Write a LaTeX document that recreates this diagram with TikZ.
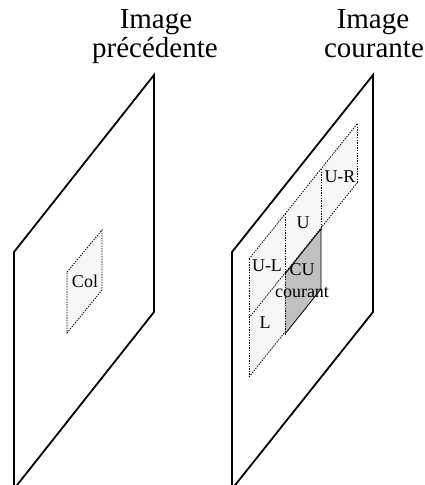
\documentclass[tikz,border=0pt]{standalone}
\usepackage{fontspec}
\setmainfont{Liberation Serif}
\begin{document}
\begin{tikzpicture}[x=1pt,y=-1pt,
  plane/.style={draw=black,line width=1.8pt,line join=miter},
  cell/.style={fill=cellgray},
  dotline/.style={draw=black,line width=0.8pt,dash pattern=on 1.4pt off 1.2pt},
  solidline/.style={draw=black,line width=0.8pt},
  title/.style={font=\fontsize{29}{29}\selectfont,anchor=base,inner sep=0pt},
  lab/.style={font=\fontsize{18}{18}\selectfont,anchor=base,inner sep=0pt}]
\definecolor{cellgray}{HTML}{F6F6F6}
\definecolor{cugray}{HTML}{C0C0C0}
\useasboundingbox (0,0) rectangle (424,485);
\clip (0,0) rectangle (424,485);
% titles
\node[title] (t1a) at (156,28) {Image};
\node[title] (t1b) at (155,57) {précédente};
\node[title] (t2a) at (373,28) {Image};
\node[title] (t2b) at (374,57) {courante};
% planes
\draw[plane] (14,489) -- (14,252) -- (154,75) -- (154,312) -- cycle;
\draw[plane] (232,489) -- (232,252) -- (373,75) -- (373,312) -- cycle;
% Col patch
\fill[cell] (67,272) -- (102,230) -- (102,290) -- (67,333) -- cycle;
\draw[dotline] (67,272) -- (102,230) -- (102,290) -- (67,333) -- cycle;
\node[lab] (col) at (85,287) {Col};
% grid cells: top-left of cell (c,r) = (249+36c, 259-45c+59r)
\fill[cell] (249,259) -- (357,124) -- (357,183) -- (321,228) -- (321,287) -- (285,333) -- (285,331) -- (249,377) -- cycle;
\fill[cugray] (285,274) -- (321,229) -- (321,289) -- (285,334) -- cycle;
% dotted grid lines
\draw[dotline] (249,259) -- (357,124);
\draw[dotline] (249,318) -- (285,273);
\draw[dotline] (285,273) -- (357,183);
\draw[dotline] (249,377) -- (285,332);
\draw[dotline] (249,259) -- (249,377);
\draw[dotline] (285,214) -- (285,334);
\draw[dotline] (321,169) -- (321,229);
\draw[dotline] (357,124) -- (357,183);
% CU solid edges
\draw[solidline] (285,274) -- (321,229) -- (321,289) -- (285,334);
% labels
\node[lab] (ul) at (267,271) {U-L};
\node[lab] (l) at (265,328) {L};
\node[lab] (u) at (303,228) {U};
\node[lab] (ur) at (340,182) {U-R};
\node[lab] (cu) at (302,275) {CU};
\node[lab] (cur) at (302,297) {courant};
\end{tikzpicture}
\end{document}
